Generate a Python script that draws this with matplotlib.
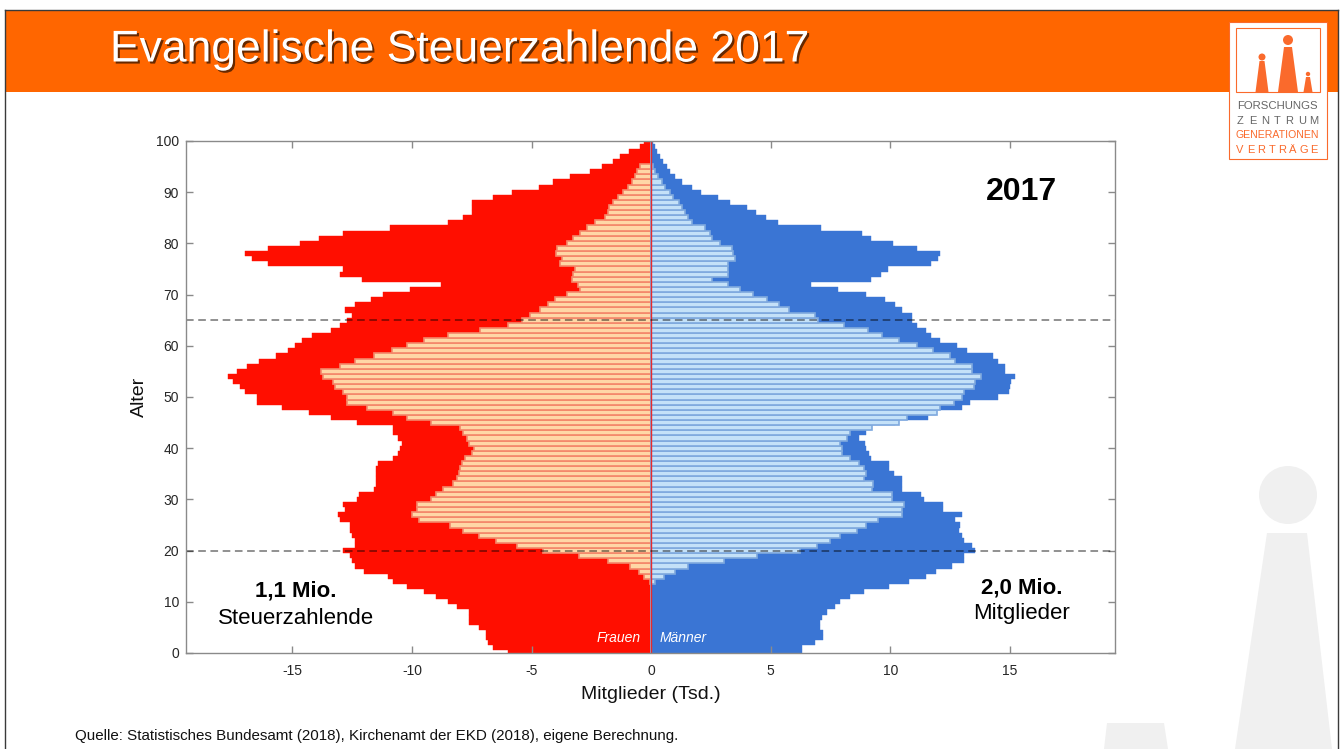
import matplotlib
matplotlib.use('Agg')
import matplotlib.pyplot as plt
import matplotlib.patheffects as pe
from matplotlib.patches import Rectangle, Circle, Polygon
from matplotlib.lines import Line2D
import numpy as np

plt.rcParams['font.family'] = ['Liberation Sans', 'DejaVu Sans']
plt.rcParams['axes.unicode_minus'] = False

# Alter 0..100
ages = np.arange(0, 101)

# Mitglieder (Tsd.) Frauen
members_f = [6.0, 6.6, 6.8, 6.9, 6.9, 7.2, 7.6, 7.6, 7.6, 8.1,
             8.5, 9.0, 9.5, 10.2, 10.8, 11.0, 12.0, 12.4, 12.5, 12.6,
             12.9, 12.4, 12.4, 12.5, 12.6, 12.6, 13.0, 13.1, 12.8, 12.9,
             12.3, 12.2, 11.6, 11.5, 11.5, 11.5, 11.5, 11.4, 10.8, 10.6,
             10.5, 10.4, 10.6, 10.8, 10.8, 12.3, 13.4, 14.3, 15.45, 16.5,
             16.5, 17.0, 17.2, 17.5, 17.7, 17.3, 16.9, 16.4, 15.7, 15.2,
             14.9, 14.6, 14.2, 13.4, 13.0, 12.7, 12.5, 12.8, 12.4, 11.7,
             11.2, 10.1, 8.8, 12.1, 13.0, 12.9, 16.0, 16.7, 17.0, 16.0,
             14.7, 13.9, 12.9, 10.9, 8.5, 7.85, 7.5, 7.5, 7.5, 6.6,
             5.8, 4.7, 4.1, 3.4, 2.55, 2.06, 1.58, 1.3, 0.92, 0.46,
             0.3]

# Mitglieder (Tsd.) Maenner
members_m = [6.3, 6.3, 6.86, 7.2, 7.2, 7.07, 7.07, 7.14, 7.35, 7.7,
             7.9, 8.33, 8.9, 9.93, 10.8, 11.5, 11.9, 12.6, 13.1, 13.07,
             13.55, 13.4, 13.07, 13.0, 12.86, 12.9, 12.7, 13.0, 12.2, 12.2,
             11.4, 11.3, 10.5, 10.5, 10.5, 10.14, 9.93, 9.93, 9.2, 9.1,
             9.0, 8.95, 8.7, 9.0, 9.2, 10.2, 11.6, 11.9, 13.0, 13.35,
             14.5, 14.95, 15.0, 15.06, 15.2, 14.8, 14.8, 14.5, 14.3, 13.2,
             12.8, 12.1, 11.7, 11.5, 11.1, 10.9, 10.9, 10.5, 10.2, 9.8,
             9.0, 7.8, 6.7, 9.2, 9.6, 9.9, 11.7, 12.0, 12.1, 11.1,
             10.1, 9.2, 8.8, 7.1, 5.3, 4.8, 4.4, 4.0, 3.3, 2.8,
             2.1, 1.7, 1.28, 1.0, 0.8, 0.65, 0.5, 0.38, 0.25, 0.15,
             0.1]

# Steuerzahlende (Tsd.) Frauen
taxpayers_f = [0, 0, 0, 0, 0, 0, 0, 0, 0, 0,
               0, 0, 0, 0, 0.05, 0.3, 0.5, 0.9, 1.8, 3.0,
               4.5, 5.6, 6.5, 7.2, 7.85, 8.4, 9.7, 10.0, 9.8, 9.8,
               9.2, 9.0, 8.7, 8.3, 8.1, 8.05, 8.0, 7.9, 7.8, 7.5,
               7.4, 7.6, 7.7, 7.85, 8.0, 9.2, 10.2, 10.8, 11.9, 12.7,
               12.7, 12.9, 13.2, 13.3, 13.7, 13.8, 13.0, 12.4, 11.6, 10.85,
               10.2, 9.5, 8.5, 7.15, 6.0, 5.4, 5.06, 4.64, 4.3, 4.0,
               3.53, 2.97, 3.04, 3.32, 3.25, 3.18, 3.81, 3.74, 3.97, 3.95,
               3.53, 3.25, 2.97, 2.69, 2.34, 1.92, 1.79, 1.74, 1.58, 1.37,
               1.16, 0.95, 0.81, 0.67, 0.57, 0.46, 0, 0, 0, 0,
               0]

# Steuerzahlende (Tsd.) Maenner
taxpayers_m = [0, 0, 0, 0, 0, 0, 0, 0, 0, 0,
               0, 0, 0, 0, 0.17, 0.52, 1.0, 1.56, 3.03, 4.42,
               6.23, 6.93, 7.5, 7.9, 8.6, 9.0, 9.5, 10.5, 10.5, 10.56,
               10.07, 10.07, 9.23, 9.3, 8.9, 9.0, 8.9, 8.7, 8.33, 8.0,
               8.0, 7.9, 8.2, 8.33, 9.23, 10.35, 10.7, 11.95, 12.1, 12.65,
               13.0, 13.1, 13.5, 13.55, 13.8, 13.4, 13.4, 12.7, 12.5, 11.8,
               11.1, 10.35, 9.65, 9.05, 8.05, 7.0, 6.86, 5.75, 5.33, 4.84,
               4.28, 3.7, 3.2, 2.54, 3.2, 3.2, 3.2, 3.5, 3.44, 3.37,
               2.9, 2.54, 2.47, 2.26, 1.7, 1.56, 1.42, 1.28, 1.15, 0.93,
               0.8, 0.6, 0.45, 0.3, 0.17, 0.1, 0, 0, 0, 0,
               0]

x_ticks = [-15, -10, -5, 0, 5, 10, 15]
y_ticks = list(range(0, 101, 10))
ref_ages = [20, 65]

W, H = 1343, 749
fig = plt.figure(figsize=(W / 100, H / 100), dpi=100)
fig.patch.set_facecolor('white')
tr = fig.dpi_scale_trans


def P(x, y):
    # pixel position (from top left) -> inches
    return (x / 100, (H - y) / 100)


# slide header and frame
fig.add_artist(Rectangle(P(5, 92), 13.33, 0.82, transform=tr,
                         facecolor='#FF6600', edgecolor='none', zorder=0))
for xs, ys in [((5, 5), (10, 749)), ((1338, 1338), (10, 749)), ((5, 1338), (10, 10))]:
    p0, p1 = P(xs[0], ys[0]), P(xs[1], ys[1])
    fig.add_artist(Line2D([p0[0], p1[0]], [p0[1], p1[1]], transform=tr,
                          color='#3a3a3a', lw=1, zorder=1))

fig.text(*P(110, 50), 'Evangelische Steuerzahlende 2017', transform=tr,
         fontsize=32, color='white', ha='left', va='center',
         path_effects=[pe.withSimplePatchShadow(offset=(1.5, -1.5),
                                                shadow_rgbFace='black', alpha=0.6)])

# logo
logo_or = '#FA6A2C'
fig.add_artist(Rectangle(P(1229, 159), 0.98, 1.37, transform=tr,
                         facecolor='white', edgecolor=logo_or, lw=0.8, zorder=2))
fig.add_artist(Rectangle(P(1236, 92), 0.84, 0.64, transform=tr,
                         facecolor='none', edgecolor=logo_or, lw=0.8, zorder=3))
for cx, cy, r, top, tw, bw in [(1262, 57, 3.5, 61, 5, 13),
                              (1288, 40, 5, 47, 8, 20),
                              (1308, 74, 2.2, 77, 4, 9)]:
    fig.add_artist(Circle(P(cx, cy), r / 100, transform=tr,
                          facecolor=logo_or, edgecolor='none', zorder=3))
    fig.add_artist(Polygon([P(cx - tw / 2, top), P(cx + tw / 2, top),
                            P(cx + bw / 2, 92), P(cx - bw / 2, 92)],
                           transform=tr, facecolor=logo_or, edgecolor='none', zorder=3))
fig.text(*P(1277, 106), 'FORSCHUNGS', transform=tr, fontsize=8.2,
         color='#666666', ha='center', va='center', zorder=4)
fig.text(*P(1277, 135), 'GENERATIONEN', transform=tr, fontsize=7.6,
         color=logo_or, ha='center', va='center', zorder=4)
for word, yy, col in [('ZENTRUM', 121, '#666666'), ('VERTRÄGE', 150, logo_or)]:
    n = len(word)
    for i, ch in enumerate(word):
        xx = 1240 + i * (74 / (n - 1))
        fig.text(*P(xx, yy), ch, transform=tr, fontsize=8, color=col,
                 ha='center', va='center', zorder=4)

# watermark figures
wm = '#F0F0F0'
fig.add_artist(Circle(P(1288, 495), 0.29, transform=tr, facecolor=wm,
                      edgecolor='none', zorder=0))
fig.add_artist(Polygon([P(1267, 533), P(1307, 533), P(1332, 749), P(1235, 749)],
                       transform=tr, facecolor=wm, edgecolor='none', zorder=0))
fig.add_artist(Polygon([P(1107, 723), P(1164, 723), P(1168, 749), P(1104, 749)],
                       transform=tr, facecolor=wm, edgecolor='none', zorder=0))

fig.text(*P(75, 736), 'Quelle: Statistisches Bundesamt (2018), Kirchenamt der EKD (2018), '
         'eigene Berechnung.', transform=tr, fontsize=10.9, color='#111111',
         ha='left', va='center')

# chart
ax = fig.add_axes([186 / W, 1 - 653 / H, 929 / W, 512 / H])
ax.set_facecolor('white')

red = '#FF0E00'
blue = '#3A75D4'
ax.barh(ages, -np.array(members_f), height=1.0, color=red, edgecolor=red,
        lw=0.3, zorder=1)
ax.barh(ages, members_m, height=1.0, color=blue, edgecolor=blue,
        lw=0.3, zorder=1)
ax.barh(ages, -np.array(taxpayers_f), height=1.0, facecolor='#FFD7A6',
        edgecolor='#F4876A', lw=1.2, zorder=2)
ax.barh(ages, taxpayers_m, height=1.0, facecolor='#C4E1F8',
        edgecolor='#7FA9DE', lw=1.2, zorder=2)
ax.axvline(0, color='#E82A2A', lw=1.0, zorder=3)
for a in ref_ages:
    ax.axhline(a, color='black', alpha=0.55, lw=1.1, ls=(0, (5, 3)), zorder=4)

ax.set_xlim(-19.45, 19.4)
ax.set_ylim(0, 100)
ax.set_xticks(x_ticks)
ax.set_yticks(y_ticks)
ax.tick_params(direction='in', top=True, right=True, length=5, width=1,
               color='#8a8a8a', labelsize=10, labelcolor='#262626')
ax.tick_params(axis='x', pad=8)
ax.tick_params(axis='y', pad=5)
for s in ax.spines.values():
    s.set_color('#8a8a8a')
    s.set_linewidth(1)
    s.set_zorder(5)

ax.set_xlabel('Mitglieder (Tsd.)', fontsize=14, color='#111111', labelpad=6)
ax.set_ylabel('Alter', fontsize=14, color='#111111', labelpad=6)

ax.text(15.5, 90, '2017', fontsize=23, fontweight='bold', ha='center',
        va='center', zorder=6)
ax.text(-14.85, 12.1, '1,1 Mio.', fontsize=16, fontweight='bold',
        ha='center', va='center', zorder=6)
ax.text(-14.85, 6.8, 'Steuerzahlende', fontsize=16, ha='center',
        va='center', zorder=6)
ax.text(15.5, 12.7, '2,0 Mio.', fontsize=16, fontweight='bold',
        ha='center', va='center', zorder=6)
ax.text(15.5, 7.8, 'Mitglieder', fontsize=16, ha='center', va='center',
        zorder=6)
ax.text(-1.34, 2.9, 'Frauen', fontsize=10, style='italic', color='white',
        ha='center', va='center', zorder=6)
ax.text(1.34, 2.9, 'Männer', fontsize=10, style='italic', color='white',
        ha='center', va='center', zorder=6)

fig.savefig('out.png', dpi=100)
